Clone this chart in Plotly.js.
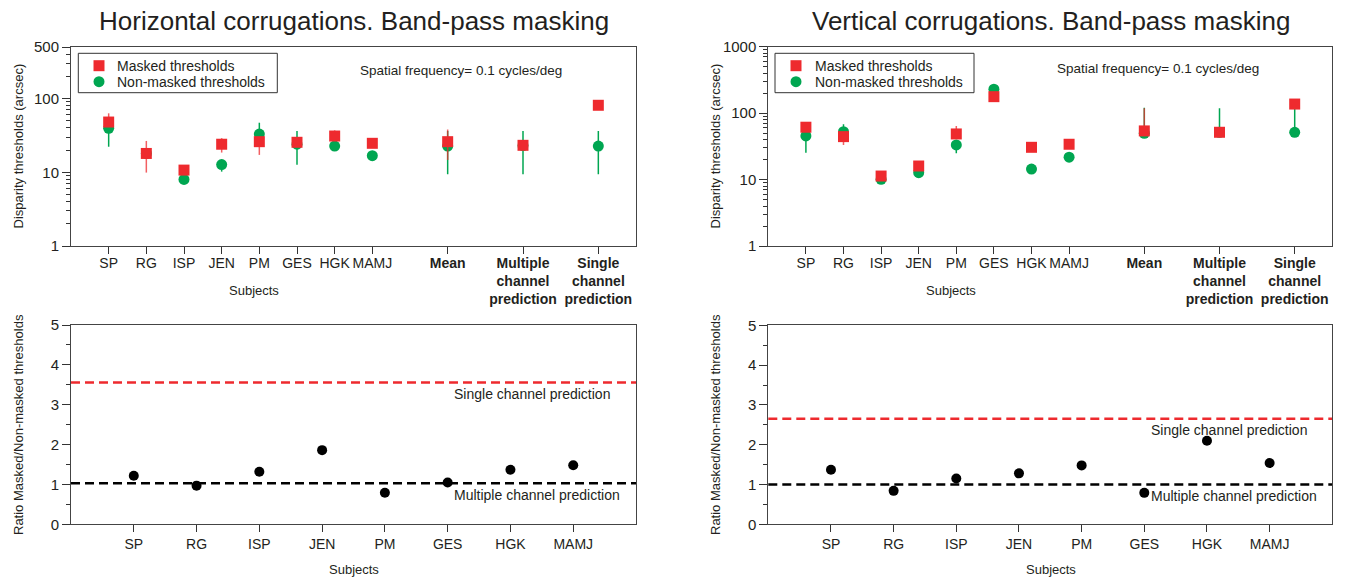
<!DOCTYPE html>
<html><head><meta charset="utf-8">
<script src="https://cdn.plot.ly/plotly-3.0.1.min.js"></script>
<style>html,body{margin:0;padding:0;background:#fff}</style>
</head><body><div id="chart" style="width:1348px;height:580px"></div>
<script>
// ---------- DATA ----------
const subjects = ['SP','RG','ISP','JEN','PM','GES','HGK','MAMJ'];
const summaryCats = ['Mean','Multiple channel prediction','Single channel prediction'];
const topCats = subjects.concat(summaryCats);
const topTickText = ['SP','RG','ISP','JEN','PM','GES','HGK','MAMJ',
  '<b>Mean</b>','<b>Multiple<br>channel<br>prediction</b>','<b>Single<br>channel<br>prediction</b>'];
const seriesNames = ['Masked thresholds', 'Non-masked thresholds'];

// Horizontal corrugations (top-left), arcsec
const hMasked    = [48, 18, 10.7, 24, 26, 25.5, 31, 24.7, 26, 23.2, 81];
const hMaskedHi  = [63, 26.6, null, 29, null, null, 37, null, 38, null, null];
const hMaskedLo  = [null, 9.9, null, 18.5, 17.2, null, null, null, 14.7, null, null];
const hNon       = [39.5, 18, 8.0, 12.7, 33, 24, 22.7, 16.8, 22.7, 23, 22.7];
const hNonHi     = [null, null, null, null, 47, 36.3, null, null, 36.3, 36.3, 36.3];
const hNonLo     = [22.2, null, null, 10.2, null, 12.6, null, null, 9.4, 9.4, 9.4];

// Vertical corrugations (top-right), arcsec
const vMasked    = [61.4, 44.3, 11.3, 16.0, 48.6, 177, 30.6, 34, 54, 51.5, 137];
const vMaskedHi  = [null, null, null, null, 64, null, null, null, 118, null, null];
const vMaskedLo  = [null, 33, null, null, null, null, null, null, null, null, null];
const vNon       = [45.4, 52.6, 10.1, 12.7, 33.2, 229, 14.4, 21.7, 49.8, 51.5, 51.5];
const vNonHi     = [null, 68, null, null, null, null, null, null, 120, 118.6, 118.6];
const vNonLo     = [25.4, null, null, null, 24.9, null, null, null, null, null, null];

// Ratios masked / non-masked
const hRatio = [1.22, 0.97, 1.32, 1.86, 0.79, 1.05, 1.37, 1.48];
const vRatio = [1.37, 0.84, 1.15, 1.28, 1.48, 0.79, 2.10, 1.54];
const hSinglePred = 3.56, hMultiPred = 1.03;
const vSinglePred = 2.65, vMultiPred = 1.0;

const topTickVals = [1, 10, 100, 500];
const topRightTickVals = [1, 10, 100, 1000];

// ---------- STYLE ----------
const RED = '#EE2A2E', GREEN = '#00A651', INK = '#231F20';
const FONT = 'Liberation Sans, Arial, Helvetica, sans-serif';
const W = 1348, H = 580;
const px = x => x / W, py = y => 1 - y / H;

const topCatArray = subjects.concat([' ', 'Mean', '  ', 'Multiple channel prediction', '   ', 'Single channel prediction']);

function err(v, hi, lo, color, w) {
  return {type: 'data', symmetric: false,
    array: hi.map((h, i) => h == null ? 0 : h - v[i]),
    arrayminus: lo.map((l, i) => l == null ? 0 : v[i] - l),
    width: 0, thickness: w, color: color};
}

function minorLog(maxVal) {
  const out = [];
  for (let d = 1; d < maxVal; d *= 10)
    for (let k = 2; k <= 9; k++) if (k * d < maxVal) out.push(k * d);
  return out;
}

const traces = [
  {x: topCats, y: hNon, xaxis: 'x', yaxis: 'y', type: 'scatter', mode: 'markers', name: seriesNames[1],
   showlegend: false, marker: {symbol: 'circle', size: 11, color: GREEN},
   error_y: err(hNon, hNonHi, hNonLo, GREEN, 1.5), cliponaxis: false},
  {x: topCats, y: hMasked, xaxis: 'x', yaxis: 'y', type: 'scatter', mode: 'markers', name: seriesNames[0],
   showlegend: false, marker: {symbol: 'square', size: 11, color: RED},
   error_y: err(hMasked, hMaskedHi, hMaskedLo, 'rgba(238,42,46,0.75)', 1.5), cliponaxis: false},
  {x: topCats, y: vNon, xaxis: 'x2', yaxis: 'y2', type: 'scatter', mode: 'markers', name: seriesNames[1],
   showlegend: false, marker: {symbol: 'circle', size: 11, color: GREEN},
   error_y: err(vNon, vNonHi, vNonLo, GREEN, 1.5), cliponaxis: false},
  {x: topCats, y: vMasked, xaxis: 'x2', yaxis: 'y2', type: 'scatter', mode: 'markers', name: seriesNames[0],
   showlegend: false, marker: {symbol: 'square', size: 11, color: RED},
   error_y: err(vMasked, vMaskedHi, vMaskedLo, 'rgba(238,42,46,0.75)', 1.5), cliponaxis: false},
  {x: subjects, y: hRatio, xaxis: 'x3', yaxis: 'y3', type: 'scatter', mode: 'markers', showlegend: false,
   name: 'Ratio', marker: {symbol: 'circle', size: 10, color: '#000'}, cliponaxis: false},
  {x: subjects, y: vRatio, xaxis: 'x4', yaxis: 'y4', type: 'scatter', mode: 'markers', showlegend: false,
   name: 'Ratio', marker: {symbol: 'circle', size: 10, color: '#000'}, cliponaxis: false}
];

const axBase = {showline: true, mirror: true, linecolor: '#444', linewidth: 1, showgrid: false, zeroline: false,
  ticks: 'outside', tickcolor: '#333', tickwidth: 1, fixedrange: true};

function topX(domain, anchor) {
  return Object.assign({}, axBase, {domain: domain, anchor: anchor, type: 'category',
    categoryarray: topCatArray, categoryorder: 'array', range: [-1, 14],
    tickmode: 'array', tickvals: topCats, ticktext: topTickText, ticklen: 7, ticklabelstandoff: -3,
    tickfont: {family: FONT, size: 14, color: INK}});
}
function botX(domain, anchor) {
  return Object.assign({}, axBase, {domain: domain, anchor: anchor, type: 'category',
    categoryarray: subjects, categoryorder: 'array', range: [-1, 8], ticklen: 7,
    tickfont: {family: FONT, size: 14, color: INK}});
}
function topY(domain, anchor, maxVal, tv) {
  return Object.assign({}, axBase, {domain: domain, anchor: anchor, type: 'log',
    range: [0, Math.log10(maxVal)], tickmode: 'array', tickvals: tv, ticktext: tv.map(String), ticklen: 8,
    tickfont: {family: FONT, size: 15, color: INK},
    minor: {tickmode: 'array', tickvals: minorLog(maxVal), ticks: 'outside', ticklen: 4, tickcolor: '#333', showgrid: false}});
}
function botY(domain, anchor) {
  return Object.assign({}, axBase, {domain: domain, anchor: anchor, range: [0, 5], dtick: 1, ticklen: 8,
    tickfont: {family: FONT, size: 15, color: INK},
    minor: {dtick: 0.5, ticks: 'outside', ticklen: 4, tickcolor: '#333', showgrid: false}});
}

const dL = [px(71), px(636)], dR = [px(768.3), px(1332.3)];

function txt(text, x, y, size, extra) {
  return Object.assign({text: text, x: px(x), y: py(y), xref: 'paper', yref: 'paper', showarrow: false,
    xanchor: 'center', yanchor: 'middle', font: {family: FONT, size: size, color: INK}}, extra || {});
}

const annotations = [
  txt('Horizontal corrugations. Band-pass masking', 353.5, 21, 26),
  txt('Vertical corrugations. Band-pass masking', 1051, 21, 26),
  txt('Spatial frequency= 0.1 cycles/deg', 358.3, 70.7, 13.5, {xanchor: 'left'}),
  txt('Spatial frequency= 0.1 cycles/deg', 1055, 68.3, 13.5, {xanchor: 'left'}),
  txt('Disparity thresholds (arcsec)', 18, 146.5, 13, {textangle: -90}),
  txt('Disparity thresholds (arcsec)', 715, 146.5, 13, {textangle: -90}),
  txt('Ratio Masked/Non-masked thresholds', 18, 425, 13, {textangle: -90}),
  txt('Ratio Masked/Non-masked thresholds', 715, 425, 13, {textangle: -90}),
  txt('Subjects', 254, 290.7, 13),
  txt('Subjects', 951, 290.7, 13),
  txt('Subjects', 354, 569.3, 13),
  txt('Subjects', 1050.5, 569.3, 13),
  {text: 'Single channel prediction', xref: 'x3 domain', yref: 'y3', x: 0.674, y: hSinglePred, yshift: -12,
   xanchor: 'left', yanchor: 'middle', showarrow: false, font: {family: FONT, size: 14, color: INK}},
  {text: 'Multiple channel prediction', xref: 'x3 domain', yref: 'y3', x: 0.674, y: hMultiPred, yshift: -12,
   xanchor: 'left', yanchor: 'middle', showarrow: false, font: {family: FONT, size: 14, color: INK}},
  {text: 'Single channel prediction', xref: 'x4 domain', yref: 'y4', x: 0.6745, y: vSinglePred, yshift: -11.6,
   xanchor: 'left', yanchor: 'middle', showarrow: false, font: {family: FONT, size: 14, color: INK}},
  {text: 'Multiple channel prediction', xref: 'x4 domain', yref: 'y4', x: 0.6745, y: vMultiPred, yshift: -11.4,
   xanchor: 'left', yanchor: 'middle', showarrow: false, font: {family: FONT, size: 14, color: INK}}
];

function hline(xr, yr, val, color) {
  return {type: 'line', xref: xr + ' domain', yref: yr, x0: 0, x1: 1, y0: val, y1: val,
    line: {color: color, width: 2.5, dash: '9px,5px'}, layer: 'below'};
}
const shapes = [
  hline('x3', 'y3', hSinglePred, RED), hline('x3', 'y3', hMultiPred, '#000'),
  hline('x4', 'y4', vSinglePred, RED), hline('x4', 'y4', vMultiPred, '#000')
];

// Hand-drawn legends (box, symbols, labels)
function addLegend(left, right, top, bottom, symX, textX, row1, row2) {
  shapes.push({type: 'rect', xref: 'paper', yref: 'paper', x0: px(left), x1: px(right), y0: py(bottom), y1: py(top),
    line: {color: '#333', width: 1}, fillcolor: '#fff', layer: 'above'});
  const s = 5.5;
  shapes.push({type: 'rect', xref: 'paper', yref: 'paper', x0: px(symX - s), x1: px(symX + s),
    y0: py(row1 + s), y1: py(row1 - s), line: {width: 0}, fillcolor: RED, layer: 'above'});
  shapes.push({type: 'circle', xref: 'paper', yref: 'paper', x0: px(symX - s), x1: px(symX + s),
    y0: py(row2 + s), y1: py(row2 - s), line: {width: 0}, fillcolor: GREEN, layer: 'above'});
  annotations.push(txt(seriesNames[0], textX, row1, 14, {xanchor: 'left'}));
  annotations.push(txt(seriesNames[1], textX, row2, 14, {xanchor: 'left'}));
}
addLegend(78.3, 277.3, 53.3, 92.7, 99, 115, 65.7, 81.7);
addLegend(775, 974, 53.3, 92.7, 796, 812.7, 65.7, 81.7);

const layout = {
  width: W, height: H, margin: {l: 0, r: 0, t: 0, b: 0},
  paper_bgcolor: '#fff', plot_bgcolor: '#fff', showlegend: false,
  font: {family: FONT, color: INK},
  xaxis: topX(dL, 'y'), yaxis: topY([py(246), py(47)], 'x', 500, topTickVals),
  xaxis2: topX(dR, 'y2'), yaxis2: topY([py(246), py(46.7)], 'x2', 1000, topRightTickVals),
  xaxis3: botX(dL, 'y3'), yaxis3: botY([py(524.3), py(325)], 'x3'),
  xaxis4: botX(dR, 'y4'), yaxis4: botY([py(524.3), py(325.3)], 'x4'),
  annotations: annotations, shapes: shapes
};

Plotly.newPlot('chart', traces, layout, {staticPlot: true, displayModeBar: false});
</script></body></html>
